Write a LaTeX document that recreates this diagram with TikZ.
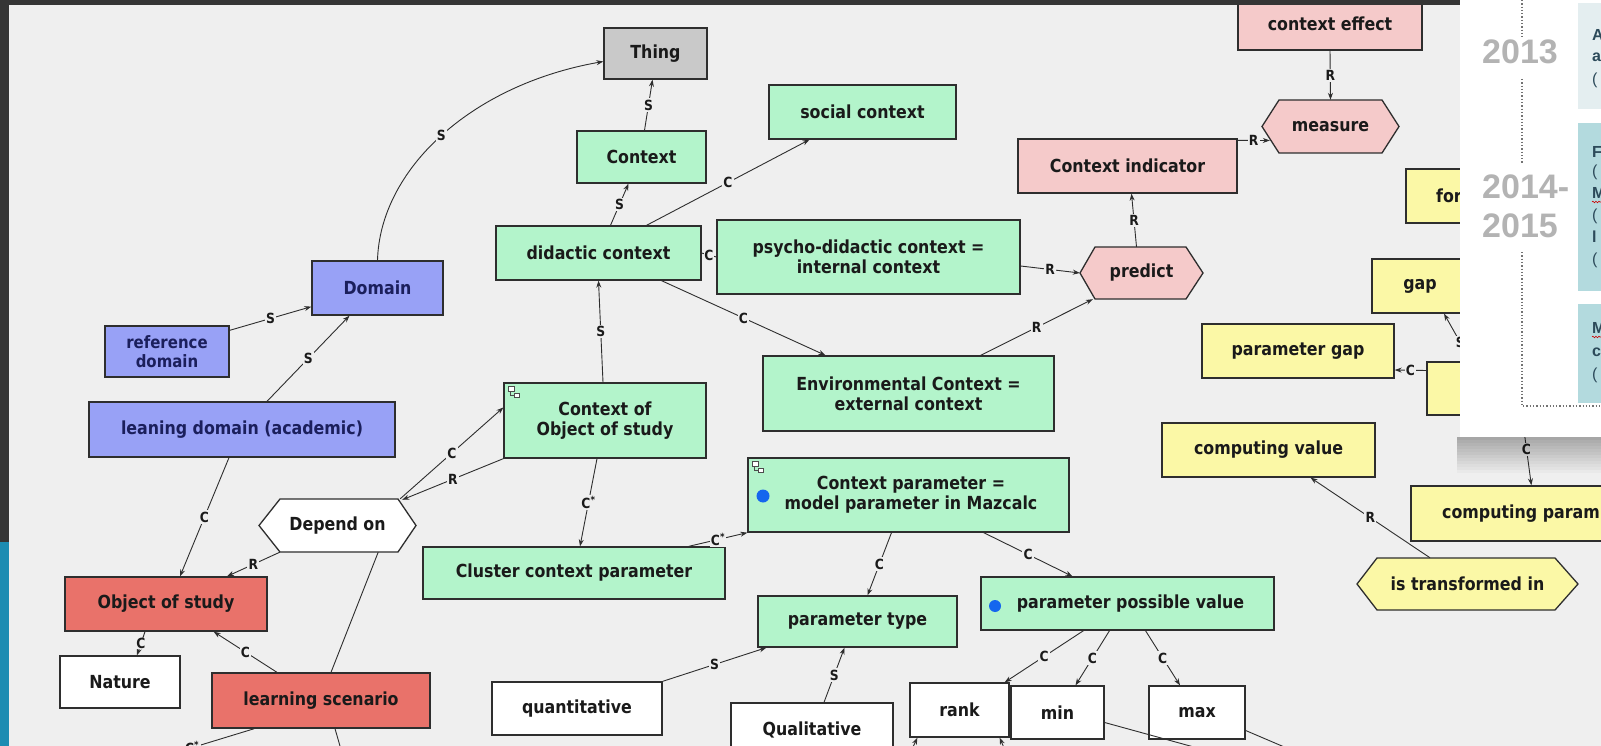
\documentclass[tikz,border=0pt]{standalone}
\usepackage{fontspec}
\usetikzlibrary{arrows.meta,calc,decorations.pathmorphing}
\newfontfamily\dfont{DejaVu Sans}[FakeStretch=0.88]
\newfontfamily\yfont{Liberation Sans}
\definecolor{canvas}{HTML}{EFEFEF}
\definecolor{darkframe}{HTML}{353535}
\definecolor{bluestrip}{HTML}{1C8CB2}
\definecolor{greenc}{HTML}{B3F4CB}
\definecolor{grayc}{HTML}{C9C9C9}
\definecolor{bluec}{HTML}{98A1F6}
\definecolor{pinkc}{HTML}{F5CACA}
\definecolor{redc}{HTML}{E9726A}
\definecolor{yellowc}{HTML}{FBF8A6}
\definecolor{linec}{HTML}{2E2E2E}
\definecolor{txtc}{HTML}{1A1A1A}
\definecolor{navy}{HTML}{1B1F5C}
\definecolor{dotblue}{HTML}{1566EE}
\definecolor{yearc}{HTML}{B3B3B3}
\definecolor{panelA}{HTML}{E4EEF0}
\definecolor{panelB}{HTML}{B3DADE}
\definecolor{paneltxt}{HTML}{2C4A5A}
\newcommand\hexa[9]{%
  \draw[nodeline, fill=#8] ({#2-#4/2},#3) -- ({#2-#4/2+#6},{#3-#5/2}) -- ({#2+#4/2-#7},{#3-#5/2}) -- ({#2+#4/2},#3) -- ({#2+#4/2-#7},{#3+#5/2}) -- ({#2-#4/2+#6},{#3+#5/2}) -- cycle;
  \node[hexbase, minimum width=#4pt, minimum height=#5pt] (#1) at (#2,#3) {#9};}
\begin{document}
\begin{tikzpicture}[x=1pt,y=-1pt,
  nodeline/.style={draw=linec, line width=1.3pt},
  box/.style={nodeline, inner sep=0pt, align=center, text=txtc,
     font=\dfont\bfseries\fontsize{18}{20}\selectfont},
  hexbase/.style={inner sep=0pt, align=center, text=txtc,
     font=\dfont\bfseries\fontsize{18}{20}\selectfont},
  txtonly/.style={inner sep=0pt, text=txtc, font=\dfont\bfseries\fontsize{18}{20}\selectfont},
  gbox/.style={box, fill=greenc},
  bbox/.style={box, fill=bluec, text=navy},
  pbox/.style={box, fill=pinkc},
  rbox/.style={box, fill=redc},
  ybox/.style={box, fill=yellowc},
  wbox/.style={box, fill=white},
  conn/.style={draw=linec, line width=0.9pt},
  arr/.style={conn, -{Stealth[length=7pt,width=5pt]}},
  lbl/.style={fill=canvas, inner sep=1.3pt, text=txtc, font=\dfont\bfseries\fontsize{14}{14}\selectfont},
  year/.style={inner sep=0pt, text=yearc, font=\yfont\bfseries\fontsize{34}{36}\selectfont},
  ptxt/.style={inner sep=0pt, anchor=west, text=paneltxt, font=\yfont\bfseries\fontsize{16}{18}\selectfont},
  icon/.style={draw=black!70, line width=0.6pt}
]
\useasboundingbox (0,0) rectangle (1601,746);
\clip (0,0) rectangle (1601,746);
\fill[canvas] (0,0) rectangle (1601,746);

% ---------- nodes ----------
\node[box, fill=grayc, minimum width=103pt, minimum height=51pt] (thing) at (655.5,53.5) {Thing};
\node[gbox, minimum width=129pt, minimum height=52pt] (context) at (641.5,157) {Context};
\node[gbox, minimum width=187pt, minimum height=54pt] (social) at (862.5,112) {social context};
\node[gbox, minimum width=205pt, minimum height=54pt] (didactic) at (598.5,253) {didactic context};
\node[gbox, minimum width=303pt, minimum height=74pt] (psycho) at (868.5,257) {psycho-didactic context =\\internal context};
\node[gbox, minimum width=291pt, minimum height=75pt] (env) at (908.5,393.5) {Environmental Context =\\external context};
\node[gbox, minimum width=202pt, minimum height=75pt] (ctxobj) at (605,420.5) {Context of\\Object of study};
\node[gbox, minimum width=302pt, minimum height=52pt] (cluster) at (574,573) {Cluster context parameter};
\node[gbox, minimum width=321pt, minimum height=74pt] (ctxparam) at (908.5,495) {\hspace*{5pt}Context parameter =\\\hspace*{5pt}model parameter in Mazcalc};
\node[gbox, minimum width=199pt, minimum height=51pt] (ptype) at (857.5,621.5) {parameter type};
\node[gbox, minimum width=293pt, minimum height=53pt] (ppv) at (1127.5,603.5) {\hspace*{6pt}parameter possible value};
\node[wbox, minimum width=99pt, minimum height=54pt] (rank) at (959.5,710) {rank};
\node[wbox, minimum width=93pt, minimum height=53pt] (min) at (1057.5,712.5) {min};
\node[wbox, minimum width=96pt, minimum height=53pt] (max) at (1197,712.5) {max};
\node[wbox, minimum width=170pt, minimum height=53pt] (quant) at (577,708.5) {quantitative};
\node[wbox, minimum width=162pt, minimum height=54pt] (qual) at (812,730) {Qualitative};
\node[bbox, minimum width=131pt, minimum height=54pt] (domain) at (377.5,288) {Domain};
\node[bbox, minimum width=124pt, minimum height=51pt, font=\dfont\bfseries\fontsize{17}{19}\selectfont] (refdom) at (167,351.5) {reference\\domain};
\node[bbox, minimum width=306pt, minimum height=55pt] (leaning) at (242,429.5) {leaning domain (academic)};
\node[rbox, minimum width=202pt, minimum height=54pt] (obj) at (166,604) {Object of study};
\node[wbox, minimum width=120pt, minimum height=52pt] (nature) at (120,682) {Nature};
\node[rbox, minimum width=218pt, minimum height=55pt] (lscen) at (321,700.5) {learning scenario};
\hexa{depend}{337.5}{525.5}{157}{53}{21}{18}{white}{Depend on}
\node[pbox, minimum width=184pt, minimum height=52pt] (ctxeffect) at (1330,24) {context effect};
\hexa{measure}{1330.5}{126.5}{137}{53}{17}{17}{pinkc}{measure}
\node[pbox, minimum width=219pt, minimum height=54pt] (ctxind) at (1127.5,166) {Context indicator};
\hexa{predict}{1141.5}{273}{123}{52}{15}{17}{pinkc}{predict}
\node[ybox, minimum width=154pt, minimum height=54pt] (forbox) at (1483,196) {};
\node[txtonly, anchor=west] (fortxt) at (1436,196) {for};
\node[ybox, minimum width=96pt, minimum height=54pt] (gap) at (1420,286) {gap};
\node[ybox, minimum width=192pt, minimum height=54pt] (pgap) at (1298,351) {parameter gap};
\node[ybox, minimum width=108pt, minimum height=53pt] (hidden) at (1481,388.5) {};
\node[ybox, minimum width=213pt, minimum height=54pt] (compval) at (1268.5,450) {computing value};
\node[ybox, minimum width=290pt, minimum height=55pt] (compparam) at (1556,513.5) {};
\node[txtonly, anchor=west] (compparamtxt) at (1442,513.5) {computing param};
\hexa{istrans}{1467.5}{584}{221}{52}{20}{23}{yellowc}{is transformed in}

% dots and icons
\fill[dotblue] (763,496) circle[radius=6.5pt];
\fill[dotblue] (995,606) circle[radius=6pt];
\draw[icon, fill=white] (508,386) rectangle (514,391);
\draw[icon] (510,391) -- (510,395) -- (514,395);
\draw[icon, fill=white] (514,393) rectangle (519,397);
\draw[icon, fill=white] (752,461) rectangle (758,466);
\draw[icon] (754,466) -- (754,470) -- (758,470);
\draw[icon, fill=white] (758,468) rectangle (763,472);

% ---------- connectors ----------
\draw[arr] (domain.north) .. controls (380,170) and (470,85) .. ($(thing.west)+(0,8)$) node[lbl,pos=0.5]{S};
\draw[arr] ($(refdom.north east)+(0,5)$) -- node[lbl]{S} ($(domain.south west)+(0,-9)$);
\draw[arr] ($(leaning.north)+(25,0)$) -- node[lbl]{S} ($(domain.south)+(-28,0)$);
\draw[arr] ($(context.north)+(3,0)$) -- node[lbl]{S} ($(thing.south)+(-3,0)$);
\draw[arr] ($(didactic.north)+(12,0)$) -- node[lbl]{S} ($(context.south)+(-13,0)$);
\draw[arr] ($(didactic.north)+(48,0)$) -- node[lbl]{C} ($(social.south)+(-53,0)$);
\draw[arr] ($(didactic.south)+(63,0)$) -- node[lbl]{C} ($(env.north)+(-83,0)$);
\draw[conn] (didactic.east) -- node[lbl, inner sep=0.5pt]{C} (psycho.west);
\draw[arr] ($(psycho.east)+(0,9)$) -- node[lbl]{R} (predict.west);
\draw[arr] ($(env.north east)+(-74,0)$) -- node[lbl]{R} ($(predict.south west)+(13,0)$);
\draw[arr] ($(predict.north)+(-5,0)$) -- node[lbl]{R} ($(ctxind.south)+(4,0)$);
\draw[arr] ($(ctxind.north east)+(0,2)$) -- node[lbl]{R} ($(measure.west)+(8,14)$);
\draw[arr] (ctxeffect.south) -- node[lbl]{R} (measure.north);
\draw[arr] ($(ctxobj.north)+(-2,0)$) -- node[lbl]{S} (didactic.south);
\draw[arr] ($(ctxobj.south)+(-8,0)$) -- node[lbl]{C\textsuperscript{*}} ($(cluster.north)+(6,0)$);
\draw[arr] ($(cluster.north east)+(-37,0)$) -- node[lbl]{C\textsuperscript{*}} (ctxparam.south west);
\draw[arr] ($(depend.north east)+(-16,0)$) -- node[lbl]{C} ($(ctxobj.west)+(0,-13)$);
\draw[arr] (ctxobj.south west) -- node[lbl]{R} ($(depend.north east)+(-14,1)$);
\draw[arr] ($(depend.south west)+(21,0)$) -- node[lbl]{R} ($(obj.north)+(61,0)$);
\draw[arr] ($(leaning.south)+(-13,0)$) -- node[lbl]{C} ($(obj.north)+(14,0)$);
\draw[arr] ($(obj.south)+(-21,0)$) -- node[lbl, inner sep=0.5pt]{C} ($(nature.north)+(17,0)$);
\draw[arr] ($(lscen.north)+(-44,0)$) -- node[lbl]{C} ($(obj.south east)+(-54,0)$);
\draw[conn] ($(lscen.north)+(10,0)$) -- ($(depend.south east)+(-38,0)$);
\coordinate (lsA) at (168,755);
\coordinate (lsB) at (344,760);
\draw[conn] ($(lscen.south west)+(43,0)$) -- node[lbl, pos=0.72]{C\textsuperscript{*}} (lsA);
\draw[conn] ($(lscen.south)+(14,0)$) -- (lsB);
\draw[arr] ($(ctxparam.south)+(-17,0)$) -- node[lbl]{C} ($(ptype.north)+(10,0)$);
\draw[arr] ($(ctxparam.south east)+(-86,0)$) -- node[lbl]{C} ($(ppv.north)+(-55,0)$);
\draw[arr] (quant.north east) -- node[lbl]{S} ($(ptype.south west)+(9,0)$);
\draw[arr] ($(qual.north)+(12,0)$) -- node[lbl]{S} ($(ptype.south)+(-13,0)$);
\draw[arr] ($(ppv.south)+(-44,0)$) -- node[lbl]{C} ($(rank.north east)+(-5,0)$);
\draw[arr] ($(ppv.south)+(-18,0)$) -- node[lbl]{C} ($(min.north)+(18,0)$);
\draw[arr] ($(ppv.south)+(18,0)$) -- node[lbl]{C} ($(max.north)+(-17,0)$);
\coordinate (minOut) at (1212,752);
\coordinate (maxOut) at (1296,752);
\coordinate (rankInA) at (906,762);
\coordinate (rankInB) at (1010,762);
\draw[conn] ($(min.east)+(0,10)$) -- (minOut);
\draw[conn] ($(max.east)+(0,18)$) -- (maxOut);
\draw[arr] (rankInA) -- ($(rank.south west)+(8,0)$);
\draw[arr] (rankInB) -- ($(rank.south east)+(-10,0)$);
\draw[arr] ($(hidden.west)+(0,-18)$) -- node[lbl]{C} ($(pgap.east)+(0,19)$);
\draw[arr] ($(hidden.north)+(-10,0)$) -- node[lbl, pos=0.4]{S} ($(gap.south)+(24,0)$);
\draw[arr] ($(hidden.south)+(41,0)$) -- node[lbl, pos=0.48]{C} ($(compparam.north west)+(121,0)$);
\draw[arr] ($(istrans.north)+(-37.5,0)$) -- node[lbl]{R} ($(compval.south)+(42,0)$);

% ---------- screen frame ----------
\fill[darkframe] (0,0) rectangle (1460,5);
\fill[darkframe] (0,0) rectangle (9,542);
\fill[bluestrip] (0,542) rectangle (9,746);

% ---------- overlay panel ----------
\foreach \i in {0,...,11} {
  \pgfmathsetmacro\op{0.3*(1-\i/12)}
  \fill[black, opacity=\op] (1457,{437+3*\i}) rectangle (1601,{437+3*(\i+1)});
}
\fill[white] (1460,0) rectangle (1601,437);
\draw[black!55, dotted, line width=1.3pt] (1522,0) -- (1522,37);
\draw[black!55, dotted, line width=1.3pt] (1522,79) -- (1522,163);
\draw[black!55, dotted, line width=1.3pt] (1522,252) -- (1522,406) -- (1601,406);
\node[year] (y2013) at (1520,52) {2013};
\node[year, anchor=west] (y2014) at (1482,187) {2014-};
\node[year, anchor=west] (y2015) at (1482,226) {2015};
\fill[panelA] (1578,3) rectangle (1601,109);
\fill[panelB] (1578,123) rectangle (1601,291);
\fill[panelB] (1578,304) rectangle (1601,403);
\node[ptxt] (pa1) at (1592,35) {A};
\node[ptxt] (pa2) at (1592,57) {a};
\node[ptxt, font=\yfont\fontsize{16}{18}\selectfont] (pa3) at (1592,80) {(};
\node[ptxt] (pb1) at (1592,152) {F};
\node[ptxt, font=\yfont\fontsize{16}{18}\selectfont] (pb2) at (1592,172) {(};
\node[ptxt] (pb3) at (1592,193) {M};
\node[ptxt, font=\yfont\fontsize{16}{18}\selectfont] (pb4) at (1592,216) {(};
\node[ptxt] (pb5) at (1592,237) {l};
\node[ptxt, font=\yfont\fontsize{16}{18}\selectfont] (pb6) at (1592,260) {(};
\node[ptxt] (pc1) at (1592,328) {M};
\node[ptxt] (pc2) at (1592,352) {c};
\node[ptxt, font=\yfont\fontsize{16}{18}\selectfont] (pc3) at (1592,375) {(};
\draw[red!80!black, line width=0.6pt, decorate, decoration={snake, amplitude=0.8pt, segment length=3pt}] (1592,202) -- (1601,202);
\draw[red!80!black, line width=0.6pt, decorate, decoration={snake, amplitude=0.8pt, segment length=3pt}] (1592,337) -- (1601,337);
\end{tikzpicture}
\end{document}
